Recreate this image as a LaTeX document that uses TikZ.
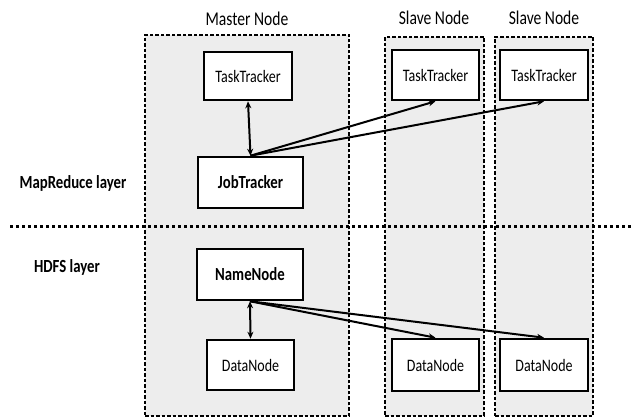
\documentclass[tikz,border=0pt]{standalone}
\usepackage{fontspec}
\setmainfont[FakeStretch=0.8]{Carlito}
\usetikzlibrary{arrows.meta}

\tikzset{
  machine/.style={draw, fill=black!7, line width=1.5pt, dash pattern=on 3.5pt off 2pt, inner sep=0pt},
  daemon/.style={draw, fill=white, line width=2.6pt, inner sep=0pt, font=\fontsize{17.5}{20}\selectfont},
  title/.style={font=\fontsize{19.5}{22}\selectfont},
  layer/.style={font=\fontsize{18.5}{21}\selectfont\bfseries},
  link/.style={line width=2pt, -{Stealth[length=7pt,width=6pt]}},
  both/.style={line width=2pt, {Stealth[length=7pt,width=6pt]}-{Stealth[length=7pt,width=6pt]}}
}

\begin{document}
\begin{tikzpicture}[x=1pt, y=-1pt]
  \useasboundingbox (0,0) rectangle (633,419);

  % machines
  \node[machine, minimum width=204pt, minimum height=381pt] (master) at (247,225.5) {};
  \node[machine, minimum width=99pt, minimum height=379pt] (slaveA) at (434.5,226.5) {};
  \node[machine, minimum width=98pt, minimum height=379pt] (slaveB) at (544,226.5) {};
  \node[title] (mtitle) at (247,19) {Master Node};
  \node[title] (atitle) at (434,18) {Slave Node};
  \node[title] (btitle) at (544,18) {Slave Node};

  % layer separator
  \coordinate (sepL) at (10,227);
  \coordinate (sepR) at (633,227);
  \draw[line width=3pt, dash pattern=on 3pt off 3pt] (sepL) -- (sepR);
  \node[layer] (mr) at (73,183) {MapReduce layer};
  \node[layer] (hdfs) at (67,267) {HDFS layer};

  % daemons on the master
  \node[daemon, minimum width=88pt, minimum height=48pt] (tt) at (248,76) {TaskTracker};
  \node[daemon, minimum width=105pt, minimum height=51pt, font=\fontsize{18.5}{21}\selectfont\bfseries] (job) at (250.5,182.5) {JobTracker};
  \node[daemon, minimum width=106pt, minimum height=51pt, font=\fontsize{18.5}{21}\selectfont\bfseries] (name) at (250,274.5) {NameNode};
  \node[daemon, minimum width=87pt, minimum height=50pt] (dn) at (250.5,365) {DataNode};

  % daemons on the slaves
  \node[daemon, minimum width=87pt, minimum height=50pt] (ttA) at (435.5,75) {TaskTracker};
  \node[daemon, minimum width=88pt, minimum height=50pt] (ttB) at (544,75) {TaskTracker};
  \node[daemon, minimum width=87pt, minimum height=52pt] (dnA) at (435.5,365) {DataNode};
  \node[daemon, minimum width=88pt, minimum height=52pt] (dnB) at (544,365) {DataNode};

  % links
  \draw[both] (tt.south) -- (job.north);
  \draw[link] (job.north) -- (ttA.south);
  \draw[link] (job.north) -- (ttB.south);
  \draw[both] (name.south) -- (dn.north);
  \draw[link] (name.south) -- (dnA.north);
  \draw[link] (name.south) -- (dnB.north);
\end{tikzpicture}
\end{document}
